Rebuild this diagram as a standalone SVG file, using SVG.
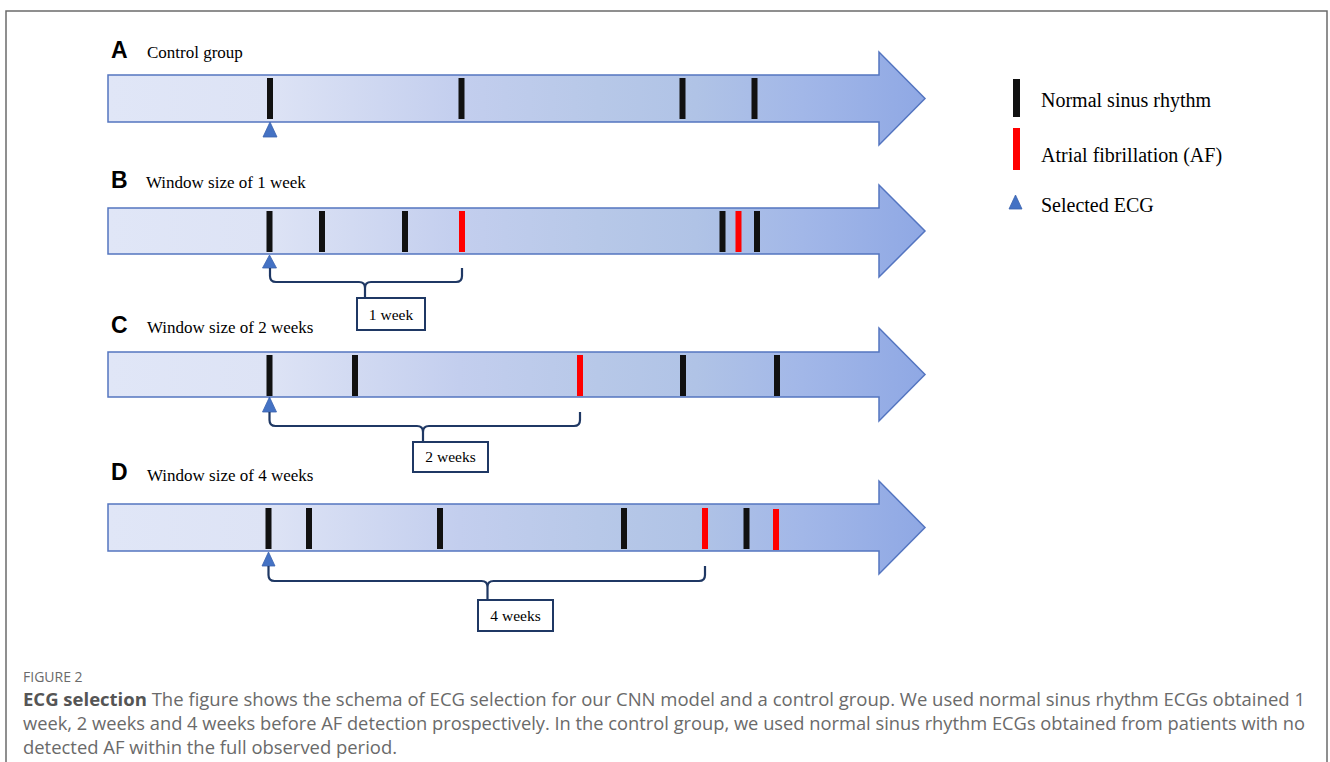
<svg xmlns="http://www.w3.org/2000/svg" width="1330" height="762" viewBox="0 0 1330 762">
<style>
.arrow{fill:url(#g);stroke:#5475C0;stroke-width:1.5}
.nsr{fill:#111}
.af{fill:#FF0000}
.sel{fill:#4472C4;stroke:#3A62AE;stroke-width:0.8}
.br{fill:none;stroke:#1F3864;stroke-width:2.2;stroke-linejoin:round}
.box{fill:#fff;stroke:#1F3864;stroke-width:2}
.lbl{font-family:"Liberation Sans",Arial,sans-serif;font-weight:bold;font-size:23px;fill:#000}
.ttl{font-family:"Liberation Serif","Times New Roman",serif;font-size:17px;fill:#000}
.leg{font-family:"Liberation Serif","Times New Roman",serif;font-size:20px;fill:#000}
.bt{font-family:"Liberation Serif","Times New Roman",serif;font-size:15.5px;fill:#000;text-anchor:middle}
.cap{font-family:"Open Sans","Noto Sans",sans-serif;font-size:17.5px;fill:#6a6a6a}
.fig{font-family:"Open Sans","Noto Sans",sans-serif;font-size:14px;fill:#6a6a6a}
</style>
<defs>
<linearGradient id="g" x1="0" y1="0" x2="1" y2="0">
<stop offset="0" stop-color="#E0E6F7"/>
<stop offset="0.2" stop-color="#DDE3F5"/>
<stop offset="0.43" stop-color="#C3CEEE"/>
<stop offset="0.6" stop-color="#B7C8E8"/>
<stop offset="0.72" stop-color="#B0C3E6"/>
<stop offset="0.85" stop-color="#A2B7E8"/>
<stop offset="1" stop-color="#8FA8E4"/>
</linearGradient>
</defs>
<rect x="0" y="0" width="1330" height="762" fill="#fff"/>
<path d="M6,770 V11 H1327 V770" fill="none" stroke="#6b6b6b" stroke-width="1.5"/>

<g id="panelA">
<text class="lbl" x="111" y="58">A</text>
<text class="ttl" x="147" y="58">Control group</text>
<path class="arrow" d="M108,75 H879 V52 L925,98.5 L879,145 V122 H108 Z"/>
<rect class="nsr" x="267" y="78" width="6" height="41"/>
<rect class="nsr" x="458.5" y="78" width="6" height="41"/>
<rect class="nsr" x="679.5" y="78" width="6" height="41"/>
<rect class="nsr" x="751.5" y="78" width="6" height="41"/>
<polygon class="sel" points="270,122 263,137 277,137"/>
</g>

<g id="panelB">
<text class="lbl" x="111" y="188">B</text>
<text class="ttl" x="146" y="188">Window size of 1 week</text>
<path class="arrow" d="M108,208 H879 V185 L925,231 L879,277 V254 H108 Z"/>
<rect class="nsr" x="266.5" y="211" width="6" height="41"/>
<rect class="nsr" x="319" y="211" width="6" height="41"/>
<rect class="nsr" x="402" y="211" width="6" height="41"/>
<rect class="af" x="459" y="211" width="6" height="41"/>
<rect class="nsr" x="719.5" y="211" width="6" height="41"/>
<rect class="af" x="735.5" y="211" width="6" height="41"/>
<rect class="nsr" x="754" y="211" width="6" height="41"/>
<polygon class="sel" points="269.5,255 262.5,268 276.5,268"/>
</g>

<g id="panelC">
<text class="lbl" x="111" y="333">C</text>
<text class="ttl" x="147" y="333">Window size of 2 weeks</text>
<path class="arrow" d="M108,352 H879 V328 L925,374.5 L879,421 V397 H108 Z"/>
<rect class="nsr" x="266.5" y="355" width="6" height="41"/>
<rect class="nsr" x="352" y="355" width="6" height="41"/>
<rect class="af" x="577" y="355" width="6" height="41"/>
<rect class="nsr" x="680" y="355" width="6" height="41"/>
<rect class="nsr" x="774" y="355" width="6" height="41"/>
<polygon class="sel" points="269.5,397 262.5,412 276.5,412"/>
</g>

<g id="panelD">
<text class="lbl" x="111" y="480">D</text>
<text class="ttl" x="147" y="481">Window size of 4 weeks</text>
<path class="arrow" d="M108,504 H879 V481 L925,527.5 L879,574 V551 H108 Z"/>
<rect class="nsr" x="265.5" y="508" width="6" height="41"/>
<rect class="nsr" x="306" y="508" width="6" height="41"/>
<rect class="nsr" x="437" y="508" width="6" height="41"/>
<rect class="nsr" x="621" y="508" width="6" height="41"/>
<rect class="af" x="702" y="508" width="6" height="41"/>
<rect class="nsr" x="743.5" y="508" width="6" height="41"/>
<rect class="af" x="773" y="509" width="6" height="41"/>
<polygon class="sel" points="268.5,552 262,566 275,566"/>
</g>

<g id="connectors">
<path class="br" d="M270,268 V276 Q270,282 276,282 H359 Q365,282 365,288 V298 M365,288 Q365,282 371,282 H456 Q462,282 462,276 V268"/>
<path class="br" d="M269.5,412 V420 Q269.5,426 275.5,426 H417 Q423,426 423,432 V442 M423,432 Q423,426 429,426 H574 Q580,426 580,420 V412"/>
<path class="br" d="M268.5,566 V575 Q268.5,581 274.5,581 H481.5 Q487.5,581 487.5,587 V600 M487.5,587 Q487.5,581 493.5,581 H699 Q705,581 705,575 V566"/>
</g>

<g id="box1w">
<rect class="box" x="357" y="298" width="68" height="32"/>
<text class="bt" x="391" y="320">1 week</text>
</g>
<g id="box2w">
<rect class="box" x="413" y="442" width="75" height="30"/>
<text class="bt" x="450.5" y="462">2 weeks</text>
</g>
<g id="box4w">
<rect class="box" x="478" y="600" width="75" height="31"/>
<text class="bt" x="515.5" y="621">4 weeks</text>
</g>

<g id="legend">
<rect class="nsr" x="1013" y="79" width="7" height="38"/>
<text class="leg" x="1041" y="107">Normal sinus rhythm</text>
<rect class="af" x="1013" y="128" width="7" height="42"/>
<text class="leg" x="1041" y="162">Atrial fibrillation (AF)</text>
<polygon class="sel" points="1015.5,195 1009,209 1022,209"/>
<text class="leg" x="1041" y="212">Selected ECG</text>
</g>

<g id="caption">
<text class="fig" x="23" y="682">FIGURE 2</text>
<text class="cap" x="23" y="706" textLength="1282" lengthAdjust="spacingAndGlyphs"><tspan font-weight="bold" fill="#555">ECG selection</tspan> The figure shows the schema of ECG selection for our CNN model and a control group. We used normal sinus rhythm ECGs obtained 1</text>
<text class="cap" x="23" y="730" textLength="1282" lengthAdjust="spacingAndGlyphs">week, 2 weeks and 4 weeks before AF detection prospectively. In the control group, we used normal sinus rhythm ECGs obtained from patients with no</text>
<text class="cap" x="23" y="754" textLength="374" lengthAdjust="spacingAndGlyphs">detected AF within the full observed period.</text>
</g>
</svg>
